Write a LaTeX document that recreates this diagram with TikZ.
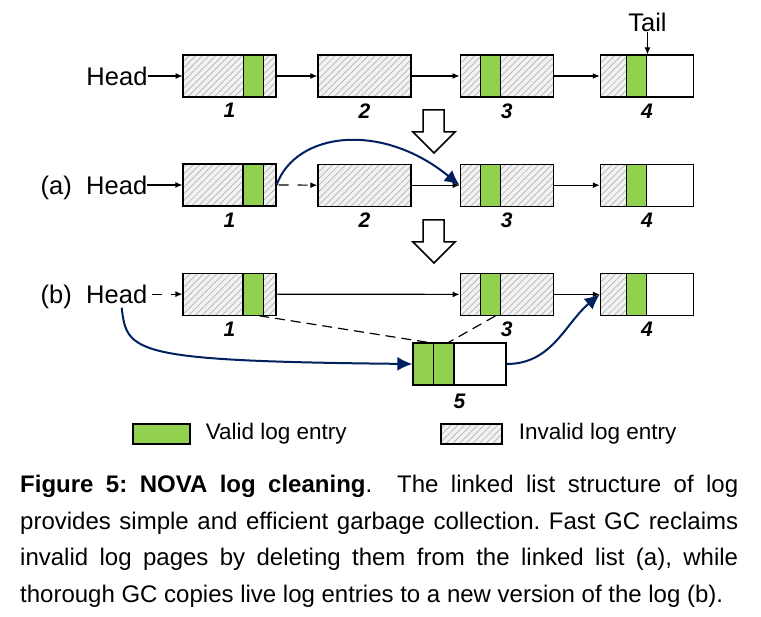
\documentclass[tikz,border=0pt]{standalone}
\usepackage{fontspec}
\setmainfont{Liberation Sans}
\usetikzlibrary{positioning, arrows.meta, patterns.meta}
\definecolor{validgreen}{HTML}{92D050}
\definecolor{gcblue}{HTML}{002060}

\begin{document}
\begin{tikzpicture}[
    x=1pt, y=1pt,
    page/.style={rectangle, draw, line width=1.2pt, minimum width=93pt, minimum height=42pt, inner sep=0pt,
      preaction={fill=gray!10}, pattern={Lines[angle=45, distance=4.7pt, line width=0.7pt]}, pattern color=gray!60},
    newpage/.style={rectangle, draw, line width=1.2pt, fill=white, minimum width=93pt, minimum height=42pt, inner sep=0pt},
    valid/.style={rectangle, draw, line width=1.2pt, fill=validgreen, minimum width=20.5pt, minimum height=42pt, inner sep=0pt, anchor=west},
    free/.style={rectangle, draw, line width=1.2pt, fill=white, minimum height=42pt, inner sep=0pt, anchor=east},
    word/.style={font=\fontsize{25.5}{30}\selectfont, inner sep=0pt},
    pagenum/.style={font=\fontsize{21}{24}\selectfont\bfseries\itshape, inner sep=0pt},
    keytext/.style={font=\fontsize{22.5}{26}\selectfont, inner sep=0pt},
    link/.style={-{Latex[length=7pt,width=6pt]}, line width=1.2pt},
    skiplink/.style={link, dash pattern=on 10pt off 9pt},
    copyline/.style={line width=1.2pt, dash pattern=on 10pt off 6pt},
    gcmove/.style={-{Latex[length=15pt,width=14pt]}, line width=2pt, gcblue},
    hollow/.style={draw, line width=1.5pt, fill=white, line join=miter},
]
  \useasboundingbox (0,0) rectangle (761,-617);

  % original log
  \node[page] (p1) at (229.5,-76) {};
  \node[page, right=41pt of p1] (p2) {};
  \node[page, right=48pt of p2] (p3) {};
  \node[page, right=46pt of p3] (p4) {};
  \node[valid] (v1) at ([xshift=60pt]p1.west) {};
  \node[valid] (v3) at ([xshift=20pt]p3.west) {};
  \node[free, minimum width=47pt] (f4) at (p4.east) {};
  \node[valid] (v4) at ([xshift=26pt]p4.west) {};
  \node[word, left=35pt of p1] (h0) {Head};
  \node[word, above=22pt of v4.north east] (tail) {Tail};
  \draw[link] (tail.south) -- (v4.north east);
  \draw[link] (h0.east) -- (p1.west);
  \draw[link] (p1.east) -- (p2.west);
  \draw[link] (p2.east) -- (p3.west);
  \draw[link] (p3.east) -- (p4.west);

  % (a) fast GC
  \node[page, below=66pt of p1] (a1) {};
  \node[page, below=66pt of p2] (a2) {};
  \node[page, below=66pt of p3] (a3) {};
  \node[page, below=66pt of p4] (a4) {};
  \node[valid] (va1) at ([xshift=60pt]a1.west) {};
  \node[valid] (va3) at ([xshift=20pt]a3.west) {};
  \node[free, minimum width=47pt] (fa4) at (a4.east) {};
  \node[valid] (va4) at ([xshift=26pt]a4.west) {};
  \node[word, left=35pt of a1] (h1) {Head};
  \node[word, base left=14pt of h1] (la) {(a)};
  \draw[link] (h1.east) -- (a1.west);
  \draw[skiplink, shorten <=2pt] (a1.east) -- (a2.west);
  \draw[link] (a2.east) -- (a3.west);
  \draw[link] (a3.east) -- (a4.west);
  \draw[gcmove] (a1.east) .. controls +(19,53) and +(-78,64) .. (a3.west);

  % (b) thorough GC
  \node[page, below=66pt of a1] (b1) {};
  \node[page, below=66pt of a3] (b3) {};
  \node[page, below=66pt of a4] (b4) {};
  \node[newpage] (b5) at (459.5,-364) {};
  \node[valid] (vb1) at ([xshift=60pt]b1.west) {};
  \node[valid] (vb3) at ([xshift=20pt]b3.west) {};
  \node[free, minimum width=47pt] (fb4) at (b4.east) {};
  \node[valid] (vb4) at ([xshift=26pt]b4.west) {};
  \node[valid] (v5a) at (b5.west) {};
  \node[valid] (v5b) at ([xshift=20.5pt]b5.west) {};
  \node[word, left=35pt of b1] (h2) {Head};
  \node[word, base left=14pt of h2] (lb) {(b)};
  \draw[skiplink, shorten <=5pt] (h2.east) -- (b1.west);
  \draw[link] (b1.east) -- (b3.west);
  \draw[link] (b3.east) -- (b4.west);
  \draw[copyline] ([xshift=-5pt]vb1.south east) -- ([xshift=-6pt]v5a.north east);
  \draw[copyline] ([xshift=-6pt]vb3.south east) -- ([xshift=-6pt]v5b.north east);
  \draw[gcmove] ([xshift=5pt,yshift=-4pt]h2.south) .. controls +(5,-45) and +(-280,3) .. (b5.west);
  \draw[gcmove] (b5.east) to[out=0, in=220] (b4.west);

  % page numbers
  \node[pagenum, below=6pt of p1] (n1) {1};
  \node[pagenum, below=6pt of p2] (n2) {2};
  \node[pagenum, below=6pt of p3] (n3) {3};
  \node[pagenum, below=6pt of p4] (n4) {4};
  \node[pagenum, below=6pt of a1] (na1) {1};
  \node[pagenum, below=6pt of a2] (na2) {2};
  \node[pagenum, below=6pt of a3] (na3) {3};
  \node[pagenum, below=6pt of a4] (na4) {4};
  \node[pagenum, below=6pt of b1] (nb1) {1};
  \node[pagenum, below=6pt of b3] (nb3) {3};
  \node[pagenum, below=6pt of b4] (nb4) {4};
  \node[pagenum, below=8pt of b5] (nb5) {5};

  % step arrows
  \foreach \ytop in {110,220}
    \draw[hollow] (423,-\ytop) -- ++(21,0) -- ++(0,-22) -- ++(11,0) -- ++(-21,-21)
      -- ++(-21,21) -- ++(10,0) -- cycle;

  % legend
  \node[valid, anchor=center, minimum width=57pt, minimum height=20pt] (keyvalid) at (161.5,-434) {};
  \node[keytext, right=15pt of keyvalid] (keyvalidtext) {Valid log entry};
  \node[page, minimum width=61pt, minimum height=20pt] (keyinvalid) at (471.5,-434) {};
  \node[keytext, right=16pt of keyinvalid] (keyinvalidtext) {Invalid log entry};

  % caption
  \node[anchor=north west, inner sep=0pt, text width=718pt, align=justify,
        font=\fontsize{24}{36.5}\selectfont\frenchspacing] (caption) at (20,-475)
    {\textbf{Figure 5: NOVA log cleaning}.\ \ The linked list structure of log\linebreak
     provides simple and efficient garbage collection. Fast GC reclaims\linebreak
     invalid log pages by deleting them from the linked list (a), while\linebreak
     thorough GC copies live log entries to a new version of the log (b).};
\end{tikzpicture}
\end{document}
